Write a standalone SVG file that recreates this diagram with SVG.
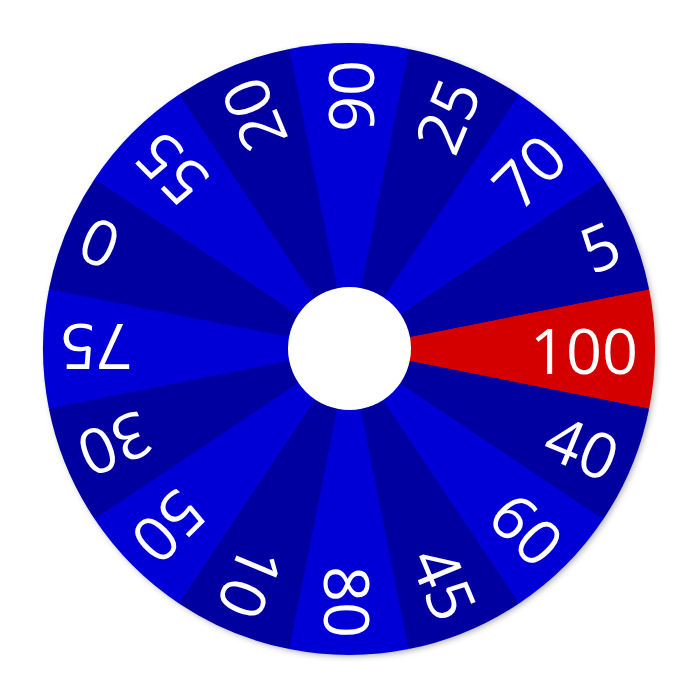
<svg xmlns="http://www.w3.org/2000/svg" xmlns:xlink="http://www.w3.org/1999/xlink" width="700" height="700" viewBox="0 0 700 700">
<style>
.lbl{font-family:"Open Sans","Noto Sans","Liberation Sans",sans-serif;font-weight:400;font-size:63px;fill:#ffffff;text-anchor:end}
.dk{fill:#0000a0}
.br{fill:#0000d6}
.rd{fill:#d40000}
</style>
<defs>
<filter id="sh" x="-10%" y="-10%" width="120%" height="120%">
<feDropShadow dx="2" dy="2" stdDeviation="3" flood-color="#000" flood-opacity="0.35"/>
</filter>
<path id="w" d="M349,349 L649.12,289.30 A306,306 0 0 1 649.12,408.70 Z"/>
</defs>
<rect width="700" height="700" fill="#ffffff"/>
<circle cx="349" cy="349" r="305" fill="#0000a0" filter="url(#sh)"/>
<g id="seg-100"><use xlink:href="#w" class="rd"/><text class="lbl" x="638" y="374">100</text></g>
<g id="seg-5" transform="rotate(-22.5 349 349)"><use xlink:href="#w" class="dk"/><text class="lbl" x="638" y="374">5</text></g>
<g id="seg-70" transform="rotate(-45 349 349)"><use xlink:href="#w" class="br"/><text class="lbl" x="638" y="374">70</text></g>
<g id="seg-25" transform="rotate(-67.5 349 349)"><use xlink:href="#w" class="dk"/><text class="lbl" x="638" y="374">25</text></g>
<g id="seg-90" transform="rotate(-90 349 349)"><use xlink:href="#w" class="br"/><text class="lbl" x="638" y="374">90</text></g>
<g id="seg-20" transform="rotate(-112.5 349 349)"><use xlink:href="#w" class="dk"/><text class="lbl" x="638" y="374">20</text></g>
<g id="seg-55" transform="rotate(-135 349 349)"><use xlink:href="#w" class="br"/><text class="lbl" x="638" y="374">55</text></g>
<g id="seg-0" transform="rotate(-157.5 349 349)"><use xlink:href="#w" class="dk"/><text class="lbl" x="638" y="374">0</text></g>
<g id="seg-75" transform="rotate(180 349 349)"><use xlink:href="#w" class="br"/><text class="lbl" x="638" y="374">75</text></g>
<g id="seg-30" transform="rotate(157.5 349 349)"><use xlink:href="#w" class="dk"/><text class="lbl" x="638" y="374">30</text></g>
<g id="seg-50" transform="rotate(135 349 349)"><use xlink:href="#w" class="br"/><text class="lbl" x="638" y="374">50</text></g>
<g id="seg-10" transform="rotate(112.5 349 349)"><use xlink:href="#w" class="dk"/><text class="lbl" x="638" y="374">10</text></g>
<g id="seg-80" transform="rotate(90 349 349)"><use xlink:href="#w" class="br"/><text class="lbl" x="638" y="374">80</text></g>
<g id="seg-45" transform="rotate(67.5 349 349)"><use xlink:href="#w" class="dk"/><text class="lbl" x="638" y="374">45</text></g>
<g id="seg-60" transform="rotate(45 349 349)"><use xlink:href="#w" class="br"/><text class="lbl" x="638" y="374">60</text></g>
<g id="seg-40" transform="rotate(22.5 349 349)"><use xlink:href="#w" class="dk"/><text class="lbl" x="638" y="374">40</text></g>
<g id="hub"><circle cx="349.5" cy="348.5" r="61.5" fill="#ffffff"/></g>
</svg>
